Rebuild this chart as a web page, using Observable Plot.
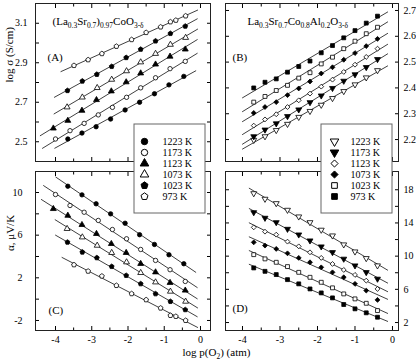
<!DOCTYPE html>
<html><head><meta charset="utf-8">
<script src="https://cdn.jsdelivr.net/npm/d3@7"></script>
<script src="https://cdn.jsdelivr.net/npm/@observablehq/plot@0.6"></script>
<style>
body{margin:0;background:#fff;}
#chart{position:relative;width:416px;height:363px;overflow:hidden;background:#fff;}
#chart svg{position:absolute;}
</style></head><body><div id="chart"></div>
<script>
// ---------- Data ----------
const tempLabels = ["1223 K", "1173 K", "1123 K", "1073 K", "1023 K", "973 K"];

// (La0.3Sr0.7)0.97CoO3-δ : log p(O2) values per temperature
const xL1223 = [-3.66, -3.27, -2.88, -2.48, -2.08, -1.68, -1.27, -0.87, -0.46];
const xL1173 = [-4.0, -3.6, -3.21, -2.82, -2.43, -2.04, -1.65, -1.24, -0.84, -0.42];
const xL1123 = [-4.06, -3.66, -3.27, -2.87, -2.46, -2.05, -1.65, -1.24, -0.84, -0.42];
const xL1073 = [-3.68, -3.26, -2.85, -2.45, -2.04, -1.65, -1.24, -0.83, -0.41];
const xL1023 = [-3.67, -3.26, -2.86, -2.45, -2.05, -1.65, -1.24, -0.83, -0.42];
const xL973  = [-3.49, -3.1, -2.72, -2.32, -1.9, -1.5, -1.1, -0.83, -0.68, -0.41];

// Panel A: log σ (S/cm)
const sigA1223 = [2.514, 2.544, 2.576, 2.615, 2.661, 2.700, 2.743, 2.788, 2.831];
const sigA1173 = [2.514, 2.556, 2.593, 2.636, 2.674, 2.725, 2.773, 2.824, 2.870, 2.907];
const sigA1123 = [2.568, 2.607, 2.658, 2.712, 2.756, 2.802, 2.847, 2.892, 2.932, 2.968];
const sigA1073 = [2.675, 2.725, 2.773, 2.815, 2.858, 2.903, 2.946, 2.992, 3.027];
const sigA1023 = [2.759, 2.807, 2.841, 2.881, 2.926, 2.968, 3.010, 3.048, 3.085];
const sigA973  = [2.886, 2.915, 2.946, 2.983, 3.017, 3.053, 3.081, 3.107, 3.115, 3.137];

// Panel C: α (μV/K)
const alC1223 = [10.59, 9.78, 8.94, 8.0, 7.12, 6.04, 5.13, 4.16, 3.32];
const alC1173 = [9.81, 8.78, 8.15, 7.38, 6.53, 5.66, 4.66, 3.63, 2.76, 1.66];
const alC1123 = [8.47, 7.84, 6.97, 6.13, 5.19, 4.35, 3.32, 2.53, 1.54, 0.82];
const alC1073 = [6.6, 5.81, 5.03, 4.35, 3.47, 2.47, 1.59, 0.72, -0.22];
const alC1023 = [5.34, 4.41, 3.88, 3.06, 2.22, 1.44, 0.50, -0.22, -0.99];
const alC973  = [3.22, 2.62, 2.16, 1.28, 0.51, -0.06, -0.84, -1.53, -1.62, -2.0];

// La0.3Sr0.7Co0.8Al0.2O3-δ : log p(O2) values
const xR = [-3.7, -3.4, -3.1, -2.8, -2.5, -2.2, -1.9, -1.6, -1.3, -1.0, -0.7, -0.4];

// Panel B: log σ (S/cm)
const sigB1223 = [2.198, 2.212, 2.236, 2.260, 2.287, 2.310, 2.334, 2.360, 2.387, 2.413, 2.440, 2.468];
const sigB1173 = [2.212, 2.238, 2.262, 2.290, 2.316, 2.344, 2.370, 2.399, 2.427, 2.452, 2.480, 2.511];
const sigB1123 = [2.254, 2.278, 2.298, 2.326, 2.352, 2.378, 2.405, 2.432, 2.462, 2.490, 2.520, 2.552];
const sigB1073 = [2.303, 2.326, 2.345, 2.372, 2.398, 2.425, 2.456, 2.480, 2.509, 2.535, 2.562, 2.590];
const sigB1023 = [2.345, 2.367, 2.390, 2.410, 2.438, 2.459, 2.493, 2.519, 2.552, 2.581, 2.610, 2.635];
const sigB973  = [2.400, 2.422, 2.435, 2.461, 2.483, 2.504, 2.536, 2.564, 2.594, 2.622, 2.651, 2.678];

// Panel D: α (μV/K)
const alD1223 = [17.56, 16.89, 16.36, 15.56, 14.76, 14.07, 13.16, 12.47, 11.39, 10.54, 9.74, 8.86];
const alD1173 = [15.27, 14.60, 14.07, 13.27, 12.59, 11.87, 11.15, 10.46, 9.67, 8.86, 8.05, 7.26];
const alD1123 = [13.47, 12.95, 12.59, 11.75, 11.18, 10.46, 9.79, 9.06, 8.34, 7.74, 7.05, 6.05];
const alD1073 = [11.66, 11.27, 10.87, 10.34, 9.79, 9.26, 8.65, 8.05, 7.45, 6.66, 5.85, 4.73];
const alD1023 = [10.18, 9.67, 9.26, 8.74, 8.05, 7.45, 6.85, 6.18, 5.45, 4.85, 4.32, 3.44];
const alD973  = [8.58, 8.17, 7.78, 7.17, 6.66, 6.05, 5.57, 4.97, 4.17, 3.65, 3.17, 2.64];

// Tick values / labels
const xMajor = [-4, -3, -2, -1, 0];
const xMinor = [-3.5, -2.5, -1.5, -0.5];
const yTicksA = [2.5, 2.7, 2.9, 3.1];
const yMinorA = [2.6, 2.8, 3.0];
const yTicksB = [2.2, 2.3, 2.4, 2.5, 2.6, 2.7];
const yTicksC = [-2, 2, 6, 10];
const yMinorC = [0, 4, 8];
const yTicksD = [2, 6, 10, 14, 18];
const yMinorD = [4, 8, 12, 16];

const titleA = "(La_{0.3}Sr_{0.7})_{0.97}CoO_{3-δ}";
const titleB = "La_{0.3}Sr_{0.7}Co_{0.8}Al_{0.2}O_{3-δ}";
const ylabSigma = "log σ (S/cm)";
const ylabAlpha = "α, μV/K";
const xlab = "log p(O_{2}) (atm)";

// ---------- Symbols ----------
const pentagon = {draw(ctx, size) {
  const R = Math.sqrt(size / 2.3776);
  for (let k = 0; k < 5; k++) {
    const a = -Math.PI / 2 + k * 2 * Math.PI / 5;
    const px = R * Math.cos(a), py = R * Math.sin(a);
    k ? ctx.lineTo(px, py) : ctx.moveTo(px, py);
  }
  ctx.closePath();
}};
const triDown = {draw(ctx, size) {
  const y = -Math.sqrt(size / (Math.sqrt(3) * 3));
  ctx.moveTo(0, -y * 2);
  ctx.lineTo(-Math.sqrt(3) * y, y);
  ctx.lineTo(Math.sqrt(3) * y, y);
  ctx.closePath();
}};
const symsL = ["circle", "circle", "triangle", "triangle", pentagon, pentagon];
const fillsL = ["black", "white", "black", "white", "black", "white"];
const symsR = [triDown, triDown, "diamond2", "diamond2", "square", "square"];
const fillsR = ["white", "black", "white", "black", "white", "black"];

// ---------- Helpers ----------
const W = 416, H = 363;
const FONT = "'Liberation Serif', 'Times New Roman', serif";
const fmtNum = d => (d < 0 ? "-" + Math.abs(d) : String(d));

function fitLine(xs, ys, extL, extR) {
  const mx = d3.mean(xs), my = d3.mean(ys);
  let sxy = 0, sxx = 0;
  xs.forEach((x, i) => { sxy += (x - mx) * (ys[i] - my); sxx += (x - mx) ** 2; });
  const b = sxy / sxx, a = my - b * mx;
  const x0 = d3.min(xs) - extL, x1 = d3.max(xs) + extR;
  return [{x: x0, y: a + b * x0}, {x: x1, y: a + b * x1}];
}

function rich(el, str, subSize, shift) {
  const parts = str.split(/(_\{[^}]*\})/).filter(s => s.length);
  while (el.firstChild) el.removeChild(el.firstChild);
  let inSub = false;
  for (const p of parts) {
    const ts = document.createElementNS("http://www.w3.org/2000/svg", "tspan");
    const sub = p.startsWith("_{");
    ts.textContent = sub ? p.slice(2, -1) : p;
    if (sub) { ts.setAttribute("font-size", subSize); if (!inSub) ts.setAttribute("dy", shift); inSub = true; }
    else if (inSub) { ts.setAttribute("dy", -shift); inSub = false; }
    el.appendChild(ts);
  }
}
function richify(svg) {
  d3.select(svg).selectAll("text").each(function() {
    const t = this.textContent;
    if (t.includes("_{")) rich(this, t, 7.5, 3);
  });
}

function panel(cfg) {
  const {xs, ys, syms, fills, xDomain, yDomain, l, r, t, b, extL, extR,
         yLab, yMin, ySide, yPad, yFmt, xLabels, extra} = cfg;
  const marks = [];
  xs.forEach((xv, i) => {
    marks.push(Plot.line(fitLine(xv, ys[i], extL, extR), {x: "x", y: "y", stroke: "black", strokeWidth: 0.75, clip: true}));
  });
  xs.forEach((xv, i) => {
    const pts = xv.map((x, j) => ({x, y: ys[i][j]}));
    marks.push(Plot.dot(pts, {x: "x", y: "y", symbol: syms[i], r: 2.2, fill: fills[i], stroke: "black", strokeWidth: 0.8}));
  });
  const blank = () => "";
  for (const anchor of ["bottom", "top"]) {
    marks.push(Plot.axisX({anchor, ticks: xMajor, tickSize: -4, tickFormat: blank, label: null}));
    marks.push(Plot.axisX({anchor, ticks: xMinor, tickSize: -2.5, tickFormat: blank, label: null}));
  }
  if (xLabels) marks.push(Plot.axisX({anchor: "bottom", ticks: xMajor, tickSize: 0, tickPadding: 5, tickFormat: fmtNum, label: null, fontSize: 10}));
  for (const anchor of ["left", "right"]) {
    marks.push(Plot.axisY({anchor, ticks: yLab, tickSize: -4, tickFormat: blank, label: null}));
    if (yMin) marks.push(Plot.axisY({anchor, ticks: yMin, tickSize: -4, tickFormat: blank, label: null}));
  }
  marks.push(Plot.axisY({anchor: ySide, ticks: yLab, tickSize: 0, tickPadding: yPad, tickFormat: yFmt, label: null, fontSize: 10}));
  marks.push(Plot.frame({stroke: "#222", strokeWidth: 1}));
  marks.push(...extra);
  const svg = Plot.plot({
    width: W, height: H,
    marginLeft: l, marginRight: W - r, marginTop: t, marginBottom: H - b,
    x: {domain: xDomain},
    y: {domain: yDomain},
    style: {background: "transparent", fontFamily: FONT, fontSize: "10px", color: "black", overflow: "visible"},
    marks
  });
  richify(svg);
  svg.style.left = "0px"; svg.style.top = "0px";
  return svg;
}

function legend(syms, fills, left, top, symDx, textDx) {
  const marks = [Plot.frame({stroke: "#666", strokeWidth: 1, fill: "white", inset: 0.5})];
  tempLabels.forEach((lab, i) => {
    marks.push(Plot.dot([lab], {y: d => d, frameAnchor: "left", dx: symDx, symbol: syms[i], r: 3.2, fill: fills[i], stroke: "black", strokeWidth: 1}));
  });
  marks.push(Plot.text(tempLabels, {y: d => d, text: d => d, frameAnchor: "left", dx: textDx, textAnchor: "start", fontSize: 10}));
  const svg = Plot.plot({
    width: 72, height: 90, margin: 0,
    y: {type: "point", domain: tempLabels, range: [10, 81], axis: null},
    style: {background: "transparent", fontFamily: FONT, fontSize: "10px", color: "black", overflow: "visible"},
    marks
  });
  svg.style.left = left + "px"; svg.style.top = top + "px";
  return svg;
}

// ---------- Build ----------
const chart = document.getElementById("chart");
const xDomL = [-4.552, 0.276];
const xDomR = [-4.453, 0.16];

const pA = panel({
  xs: [xL1223, xL1173, xL1123, xL1073, xL1023, xL973],
  ys: [sigA1223, sigA1173, sigA1123, sigA1073, sigA1023, sigA973],
  syms: symsL, fills: fillsL, xDomain: xDomL, yDomain: [2.4, 3.2],
  l: 35, r: 210, t: 3, b: 161, extL: 0.36, extR: 0.33,
  yLab: yTicksA, yMin: yMinorA, ySide: "left", yPad: 8, yFmt: d3.format(".1f"), xLabels: false,
  extra: [
    Plot.text([titleA], {frameAnchor: "top-left", dx: 17, dy: 14, textAnchor: "start", fontSize: 11}),
    Plot.text(["(A)"], {frameAnchor: "top-left", dx: 12, dy: 50, textAnchor: "start", fontSize: 11}),
    Plot.text([ylabSigma], {frameAnchor: "left", dx: -26, rotate: -90, fontSize: 11})
  ]
});
const pB = panel({
  xs: [xR, xR, xR, xR, xR, xR],
  ys: [sigB1223, sigB1173, sigB1123, sigB1073, sigB1023, sigB973],
  syms: symsR, fills: fillsR, xDomain: xDomR, yDomain: [2.115, 2.727],
  l: 225, r: 398, t: 3, b: 161, extL: 0.3, extR: 0.27,
  yLab: yTicksB, yMin: null, ySide: "right", yPad: 5, yFmt: d3.format(".1f"), xLabels: false,
  extra: [
    Plot.text([titleB], {frameAnchor: "top-left", dx: 22, dy: 14, textAnchor: "start", fontSize: 11}),
    Plot.text(["(B)"], {frameAnchor: "top-left", dx: 7, dy: 50, textAnchor: "start", fontSize: 11})
  ]
});
const pC = panel({
  xs: [xL1223, xL1173, xL1123, xL1073, xL1023, xL973],
  ys: [alC1223, alC1173, alC1123, alC1073, alC1023, alC973],
  syms: symsL, fills: fillsL, xDomain: xDomL, yDomain: [-2.94, 11.97],
  l: 35, r: 210, t: 171, b: 330, extL: 0.33, extR: 0.33,
  yLab: yTicksC, yMin: yMinorC, ySide: "left", yPad: 13, yFmt: fmtNum, xLabels: true,
  extra: [
    Plot.text(["(C)"], {frameAnchor: "bottom-left", dx: 13, dy: -17, textAnchor: "start", fontSize: 11}),
    Plot.text([ylabAlpha], {frameAnchor: "left", dx: -25, rotate: -90, fontSize: 11}),
    Plot.text([xlab], {frameAnchor: "bottom-right", dx: -28, dy: 25, textAnchor: "start", fontSize: 11})
  ]
});
const pD = panel({
  xs: [xR, xR, xR, xR, xR, xR],
  ys: [alD1223, alD1173, alD1123, alD1073, alD1023, alD973],
  syms: symsR, fills: fillsR, xDomain: xDomR, yDomain: [1.04, 20.2],
  l: 225, r: 398, t: 171, b: 330, extL: 0.12, extR: 0.27,
  yLab: yTicksD, yMin: yMinorD, ySide: "right", yPad: 5, yFmt: fmtNum, xLabels: true,
  extra: [
    Plot.text(["(D)"], {frameAnchor: "bottom-left", dx: 7, dy: -19, textAnchor: "start", fontSize: 11})
  ]
});
chart.append(pA, pB, pC, pD);
chart.append(legend(symsL, fillsL, 133, 123, 11, 29));
chart.append(legend(symsR, fillsR, 320, 123, 14, 30));
</script></body></html>
